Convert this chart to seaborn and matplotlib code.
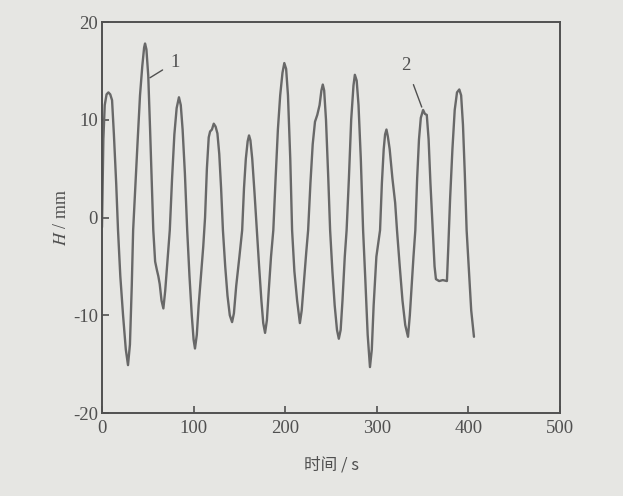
import matplotlib
matplotlib.use("Agg")
import matplotlib.pyplot as plt
import seaborn as sns
import pandas as pd

# time (s) and displacement H (mm)
t = [0, 1.5, 3, 5, 7, 9, 11, 13, 15.5, 17.5, 20, 23, 26, 28.4, 30.5, 32.5, 34, 36, 39, 41.5,
     44, 46, 47, 48.5, 50.5, 52.5, 54.5, 56, 58, 60, 61.5, 63, 65, 67, 69, 71, 74, 76.5, 79, 81.5,
     84, 86, 88, 90.5, 93, 95.5, 98, 100, 101.5, 103.5, 105.5, 108, 110.5, 112.5, 114.5, 116.5, 118, 120, 122, 124,
     126, 128, 130, 132, 134.5, 137, 139.5, 142, 144, 146.5, 150, 153, 155, 157, 159, 160.5, 162, 164, 166.5, 169,
     171.5, 174, 176, 178, 180, 182, 184.5, 187, 189.5, 192, 194.5, 197, 199, 201, 203, 205.5, 207.5, 210, 213, 216,
     218, 220.5, 223, 225, 227.5, 230, 232.5, 235, 237.5, 239.5, 241, 242.5, 244.5, 247, 249, 251.5, 254, 256.5, 258.5, 260.5,
     262.5, 265, 267, 269.5, 272, 274.5, 276, 278, 280, 282.5, 285, 287.5, 290, 292.5, 294.5, 296.5, 299.5, 303.5, 305.5, 307.5,
     309, 310.5, 312, 314, 317, 320, 322, 325, 328, 331, 334, 336, 338, 340, 342, 344, 346, 348, 350.5, 352.5,
     354.5, 356.5, 358.5, 361, 363, 364.5, 368, 372, 376.5, 378, 380, 382.5, 385, 387.5, 390, 392, 394, 396, 398, 400.5,
     403, 406]
H = [-1, 8, 11.5, 12.6, 12.8, 12.6, 12.0, 8.5, 3.5, -1.3, -6, -10, -13.5, -15.1, -13, -7, -1.3, 2.5, 8, 12.5,
     15.5, 17.4, 17.8, 17.2, 14.5, 9, 3, -1.3, -4.5, -5.4, -6.0, -6.8, -8.5, -9.3, -7.5, -5, -1.3, 4, 8.5, 11.2,
     12.3, 11.5, 9, 4.5, -1.3, -6, -10, -12.5, -13.4, -12, -9, -6, -3, 0, 5, 8.2, 8.8, 9.0, 9.6, 9.3,
     8.6, 6.5, 3, -1.3, -5, -8, -10, -10.7, -9.8, -7, -4, -1.3, 3, 6, 7.8, 8.4, 7.9, 6, 2.5, -1.3,
     -5, -8.5, -10.8, -11.8, -10.5, -7.5, -4, -1.3, 4, 9, 12.5, 14.8, 15.8, 15.2, 12.5, 6, -1.3, -5.5, -8.5, -10.8,
     -9.5, -6.5, -3.5, -1.3, 3.5, 7.5, 9.8, 10.5, 11.5, 13, 13.6, 13, 10, 4, -1.3, -5.5, -9, -11.5, -12.4, -11.5,
     -8.5, -4, -1.3, 4, 10, 13.5, 14.6, 14, 11.5, 6, -1.3, -6.5, -12, -15.3, -13.5, -9, -4, -1.3, 3.5, 7,
     8.5, 9.0, 8.3, 7, 4, 1.5, -1.3, -5, -8.5, -11, -12.2, -10, -7, -4, -1.3, 4, 8, 10.2, 11.0, 10.6,
     10.5, 8, 3.5, -1.3, -5, -6.3, -6.5, -6.4, -6.5, -3, 2, 7, 11, 12.8, 13.1, 12.5, 9.5, 4.5, -1.3, -5.5,
     -9.5, -12.2]

x_ticks = [0, 100, 200, 300, 400, 500]
y_ticks = [-20, -10, 0, 10, 20]
x_label = "时间 / s"
y_label = "$H$ / mm"

bg = "#e6e6e3"
ink = "#505050"
line_c = "#686868"

sns.set_theme(style="ticks")
plt.rcParams['font.family'] = ['Liberation Serif', 'DejaVu Sans']
plt.rcParams['mathtext.fontset'] = 'stix'

fig = plt.figure(figsize=(6.23, 4.96), dpi=100, facecolor=bg)
ax = fig.add_axes([0.1637, 0.1673, 0.7353, 0.7883], facecolor=bg)

df = pd.DataFrame({"t": t, "H": H})
sns.lineplot(data=df, x="t", y="H", ax=ax, color=line_c, lw=1.7, sort=False)

ax.set_xlim(0, 500)
ax.set_ylim(-20, 20)
ax.set_xticks(x_ticks)
ax.set_yticks(y_ticks)
ax.set_xticklabels([str(v) for v in x_ticks])
ax.set_yticklabels([str(v) for v in y_ticks])
ax.tick_params(direction='in', length=5, width=1.2, colors=ink, labelsize=13.5)
ax.tick_params(axis='x', pad=5)
ax.tick_params(axis='y', pad=3)
for s in ax.spines.values():
    s.set_color(ink)
    s.set_linewidth(1.4)
    s.set_visible(True)

ax.set_xlabel(x_label, family=['Noto Sans CJK SC', 'DejaVu Sans'], fontsize=12, color=ink, labelpad=14)
ax.set_ylabel(y_label, fontsize=13, color=ink, labelpad=2)

ax.annotate("1", xy=(52.4, 14.3), xytext=(80, 15.9), fontsize=13.5, color=ink,
            ha='center', va='center',
            arrowprops=dict(arrowstyle='-', color=ink, lw=1.0, shrinkA=4, shrinkB=0))
ax.annotate("2", xy=(349, 11.3), xytext=(332, 15.6), fontsize=13.5, color=ink,
            ha='center', va='center',
            arrowprops=dict(arrowstyle='-', color=ink, lw=1.0, shrinkA=6, shrinkB=0))

fig.savefig("out.png", dpi=100, facecolor=bg)
